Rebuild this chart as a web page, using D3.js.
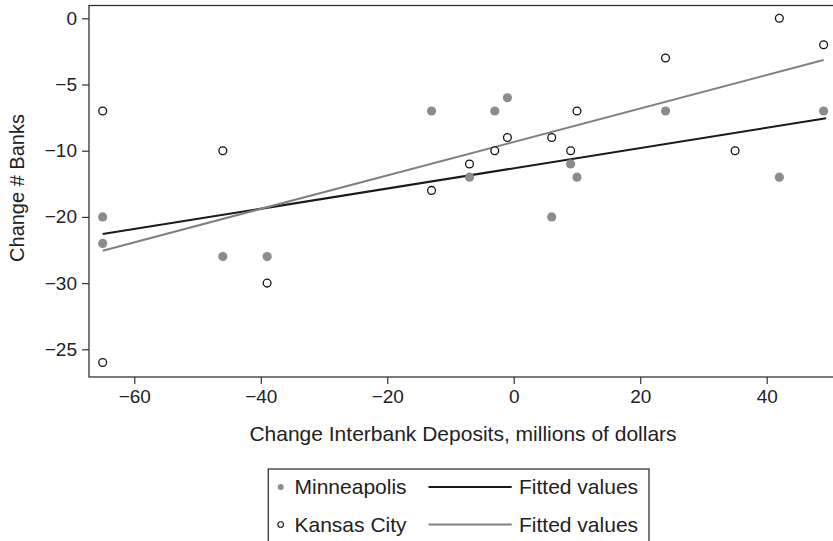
<!DOCTYPE html>
<html>
<head>
<meta charset="utf-8">
<script src="https://cdn.jsdelivr.net/npm/d3@7"></script>
<style>
  body { margin: 0; background: #fff; }
  text { font-family: "Liberation Sans", Arial, sans-serif; fill: #222; }
</style>
</head>
<body>
<script>
// data
var minnX = [-65, -65, -46, -39, -13, -7, -3, -1, 6, 9, 10, 24, 42, 49];
var minnY = [-15, -17, -18, -18, -7, -12, -7, -6, -15, -11, -12, -7, -12, -7];
var kcX = [-65, -65, -46, -39, -13, -7, -3, -1, 6, 9, 10, 24, 35, 42, 49];
var kcY = [-7, -26, -10, -20, -13, -11, -10, -9, -9, -10, -7, -3, -10, 0, -2];
// fitted line ends (x, y)
var fitMinn = [[-65, -16.3], [49.4, -7.55]];
var fitKC = [[-65, -17.55], [49, -3.15]];
var xTicks = [-60, -40, -20, 0, 20, 40];
var yTicks = [0, -5, -10, -15, -20, -25];
var yTickLabels = ["0", "\u22125", "\u221210", "\u221220", "\u221230", "\u221225"];

var w = 833, h = 541;

var svg = d3.select("body").append("svg")
    .attr("width", w)
    .attr("height", h);

var x = d3.scaleLinear().domain([-60, 40]).range([134.3, 766.7]);
var y = d3.scaleLinear().domain([0, -25]).range([18.3, 349.3]);

// plot frame
svg.append("rect")
    .attr("x", 89).attr("y", 5.5)
    .attr("width", 780).attr("height", 371.5)
    .attr("fill", "none")
    .attr("stroke", "#333")
    .attr("stroke-width", 1.3);

// axes
var yAxis = svg.append("g")
    .attr("transform", "translate(89,0)")
    .call(d3.axisLeft(y).tickValues(yTicks).tickSize(7).tickPadding(5)
        .tickFormat(function(d, i) { return yTickLabels[i]; }));
yAxis.select(".domain").remove();

var xAxis = svg.append("g")
    .attr("transform", "translate(0,377)")
    .call(d3.axisBottom(x).tickValues(xTicks).tickSize(7).tickPadding(6)
        .tickFormat(function(d) { return d < 0 ? "\u2212" + Math.abs(d) : d; }));
xAxis.select(".domain").remove();

svg.selectAll(".tick line").attr("stroke", "#333").attr("stroke-width", 1.2);
svg.selectAll(".tick text")
    .attr("font-family", "'Liberation Sans', Arial, sans-serif")
    .attr("font-size", 19)
    .attr("fill", "#222");

// axis titles
svg.append("text")
    .attr("x", 463).attr("y", 441)
    .attr("text-anchor", "middle")
    .attr("font-size", 21)
    .text("Change Interbank Deposits, millions of dollars");

svg.append("text")
    .attr("transform", "translate(24,188) rotate(-90)")
    .attr("text-anchor", "middle")
    .attr("font-size", 20)
    .text("Change # Banks");

// fitted lines
var line = d3.line()
    .x(function(d) { return x(d[0]); })
    .y(function(d) { return y(d[1]); });

svg.append("path")
    .attr("d", line(fitMinn))
    .attr("fill", "none")
    .attr("stroke", "#1a1a1a")
    .attr("stroke-width", 2);

svg.append("path")
    .attr("d", line(fitKC))
    .attr("fill", "none")
    .attr("stroke", "#808080")
    .attr("stroke-width", 2);

// points
svg.append("g").selectAll("circle")
    .data(d3.range(minnX.length))
    .enter().append("circle")
    .attr("cx", function(i) { return x(minnX[i]); })
    .attr("cy", function(i) { return y(minnY[i]); })
    .attr("r", 4.6)
    .attr("fill", "#8c8c8c");

svg.append("g").selectAll("circle")
    .data(d3.range(kcX.length))
    .enter().append("circle")
    .attr("cx", function(i) { return x(kcX[i]); })
    .attr("cy", function(i) { return y(kcY[i]); })
    .attr("r", 3.9)
    .attr("fill", "#fff")
    .attr("stroke", "#111")
    .attr("stroke-width", 1.3);

// legend
var lg = svg.append("g");
lg.append("rect")
    .attr("x", 268.3).attr("y", 469)
    .attr("width", 380.7).attr("height", 120)
    .attr("fill", "none")
    .attr("stroke", "#333")
    .attr("stroke-width", 1.3);

var rows = [
  { label: "Minneapolis", y: 487, filled: true, lineColor: "#1a1a1a" },
  { label: "Kansas City", y: 524.5, filled: false, lineColor: "#808080" }
];

rows.forEach(function(r) {
  if (r.filled) {
    lg.append("circle").attr("cx", 280.7).attr("cy", r.y).attr("r", 3)
      .attr("fill", "#8c8c8c");
  } else {
    lg.append("circle").attr("cx", 280.7).attr("cy", r.y).attr("r", 2.8)
      .attr("fill", "#fff").attr("stroke", "#111").attr("stroke-width", 1.1);
  }
  lg.append("text").attr("x", 294.5).attr("y", r.y + 7.3)
    .attr("font-size", 21).text(r.label);
  lg.append("line")
    .attr("x1", 428.5).attr("x2", 511.7)
    .attr("y1", r.y).attr("y2", r.y)
    .attr("stroke", r.lineColor).attr("stroke-width", 1.8);
  lg.append("text").attr("x", 519).attr("y", r.y + 7.3)
    .attr("font-size", 21).text("Fitted values");
});
</script>
</body>
</html>
